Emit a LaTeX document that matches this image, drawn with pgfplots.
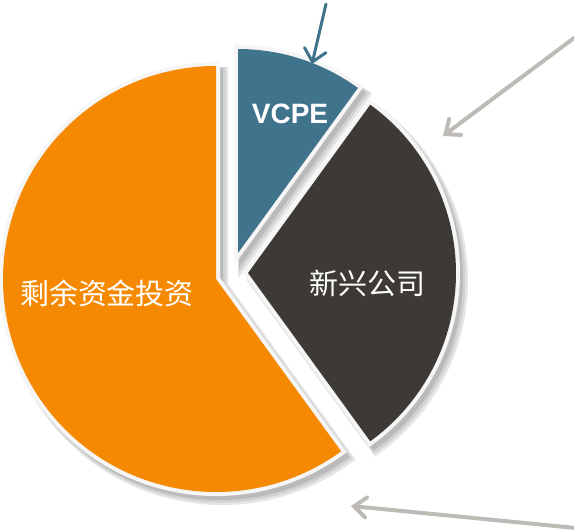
\documentclass[border=0pt]{standalone}
\usepackage{pgfplots}
\pgfplotsset{compat=1.18}
\usepackage{pgfplotstable}
\usetikzlibrary{arrows.meta}
\usepackage{fontspec}
\setmainfont{Liberation Sans}
\newfontfamily\cjk{Noto Sans CJK SC}
\definecolor{pieorange}{RGB}{245,137,2}
\definecolor{pieblue}{RGB}{64,115,140}
\definecolor{piedark}{RGB}{61,58,54}
\definecolor{arrowgray}{RGB}{190,186,181}
\definecolor{rim}{RGB}{246,246,246}

% share of each slice (percent), slice vertex (px) and radius (px)
\pgfplotstableread{
id value cx cy r
VCPE 10 238 253 204
New 30 248 273 208
Rest 60 216 279 213
}\piedata

% cx cy r start end style
\newcommand\pieslice[6]{%
  \path[#6] (axis cs:#1,#2) -- ++(#4:#3*0.5pt) arc[start angle=#4, end angle=#5, radius=#3*0.5pt] -- cycle;}
\newcommand\pieshadow[5]{%
  \pieslice{#1+6}{#2+7}{#3}{#4}{#5}{fill=black!10, draw=black!10, line width=6pt}%
  \pieslice{#1+5}{#2+6}{#3}{#4}{#5}{fill=black!18, draw=black!18, line width=4.5pt}%
  \pieslice{#1+4}{#2+5}{#3}{#4}{#5}{fill=black!27, draw=black!27, line width=3pt}}

\begin{document}
\begin{tikzpicture}
\pgfplotstablegetelem{0}{value}\of\piedata \pgfmathsetmacro\vA{\pgfplotsretval}
\pgfplotstablegetelem{1}{value}\of\piedata \pgfmathsetmacro\vB{\pgfplotsretval}
\pgfplotstablegetelem{2}{value}\of\piedata \pgfmathsetmacro\vC{\pgfplotsretval}
\pgfmathsetmacro\aS{90}
\pgfmathsetmacro\aA{\aS-3.6*\vA}
\pgfmathsetmacro\aB{\aA-3.6*\vB}
\pgfmathsetmacro\aC{\aB-3.6*\vC}
\begin{axis}[
  x=0.5pt, y=0.5pt, y dir=reverse,
  xmin=0, xmax=574, ymin=0, ymax=530,
  hide axis, clip=false,
]
\coordinate (BL) at (axis cs:0,530);
\coordinate (TR) at (axis cs:574,0);
% shadows
\pieshadow{238}{253}{204}{\aS}{\aA}
\pieshadow{248}{273}{208}{\aA}{\aB}
\pieshadow{216}{279}{213}{\aB}{\aC}
% slices
\pieslice{238}{253}{204}{\aS}{\aA}{draw=rim, line width=4pt}
\pieslice{238}{253}{204}{\aS}{\aA}{fill=pieblue}
\pieslice{248}{273}{208}{\aA}{\aB}{draw=rim, line width=4pt}
\pieslice{248}{273}{208}{\aA}{\aB}{fill=piedark}
\pieslice{216}{279}{213}{\aB}{\aC}{draw=rim, line width=4pt}
\pieslice{216}{279}{213}{\aB}{\aC}{fill=pieorange}
% labels
\node[text=white, font=\fontsize{14}{16}\selectfont\bfseries] at (axis cs:290,114) {VCPE};
\node[text=white, font=\fontsize{14.5}{17}\selectfont\cjk] at (axis cs:367,283) {新兴公司};
\node[text=white, font=\fontsize{14.5}{17}\selectfont\cjk] at (axis cs:107,293) {剩余资金投资};
% arrows
\draw[pieblue, line width=1.5pt, line cap=round, -{Straight Barb[length=6pt, width=11pt, line cap=round]}] (axis cs:326,4) -- (axis cs:312,64);
\draw[arrowgray, line width=2pt, line cap=round, -{Straight Barb[length=6pt, width=10pt, line cap=round]}] (axis cs:574,38) -- (axis cs:443,136);
\draw[arrowgray, line width=2pt, line cap=round, -{Straight Barb[length=6pt, width=10pt, line cap=round]}] (axis cs:576,528) -- (axis cs:351,506);
\end{axis}
\pgfresetboundingbox
\path (BL) rectangle (TR);
\end{tikzpicture}
\end{document}
